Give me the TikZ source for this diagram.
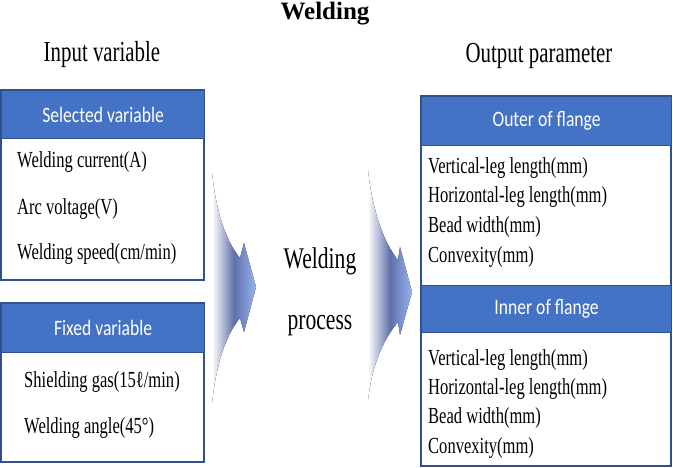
\documentclass[tikz,border=0pt]{standalone}
\usepackage{fontspec}
\setmainfont{Liberation Serif}
\newfontfamily\narrowserif[FakeStretch=0.72]{Liberation Serif}
\newfontfamily\headfont[FakeStretch=0.8]{Carlito}
\usetikzlibrary{positioning}
\definecolor{headblue}{RGB}{68,114,196}
\definecolor{frameblue}{RGB}{47,82,143}
\definecolor{arrowmid}{RGB}{95,112,170}
\definecolor{arrowtip}{RGB}{150,180,240}
\tikzstyle{frame}=[draw=frameblue,line width=1.2pt]
\tikzstyle{header}=[draw=frameblue,fill=headblue,text=white,line width=1.2pt,anchor=north west,inner sep=0pt,font=\headfont\fontsize{22}{26}\selectfont]
\tikzstyle{item}=[anchor=base west,inner sep=0pt,font=\narrowserif\fontsize{23}{28}\selectfont]
\tikzstyle{caption}=[anchor=base,inner sep=0pt,font=\narrowserif\fontsize{29}{34}\selectfont]
\tikzstyle{bigarrow}=[left color=white,right color=arrowtip,middle color=arrowmid,draw=none]

\begin{document}
\begin{tikzpicture}[x=1pt,y=-1pt]
    \useasboundingbox (0,0) rectangle (673,468);

    % titles
    \node[anchor=base,inner sep=0pt,font=\bfseries\fontsize{25}{30}\selectfont] (title) at (325,20) {Welding};
    \node[caption] (input) at (102,62) {Input variable};
    \node[caption] (output) at (539,63) {Output parameter};

    % input boxes
    \draw[frame] (1,90) rectangle (204,280);
    \node[header,minimum width=203pt,minimum height=48pt] (selected) at (1,90) {Selected variable};
    \draw[frame] (1,303) rectangle (204,462);
    \node[header,minimum width=203pt,minimum height=49pt] (fixed) at (1,303) {Fixed variable};

    \foreach \pos/\name/\txt in {{(17,168)/current/{Welding current(A)}}, {(17,215)/voltage/{Arc voltage(V)}},
        {(17,260)/speed/{Welding speed(cm/min)}}, {(24,387)/gas/{Shielding gas(15ℓ/min)}}, {(24,433)/angle/{Welding angle(45°)}}}
        \node[item] (\name) at \pos {\txt};

    % output box
    \draw[frame] (421,96) rectangle (671,466);
    \node[header,minimum width=250pt,minimum height=49pt] (outer) at (421,96) {Outer of flange};
    \node[header,minimum width=250pt,minimum height=47pt] (inner) at (421,285) {Inner of flange};

    \foreach \y/\name in {174/o, 365/i}
    {
        \node[item] (\name vert) at (428,\y) {Vertical-leg length(mm)};
        \node[item,below=29pt of \name vert.base west,anchor=base west] (\name hori) {Horizontal-leg length(mm)};
        \node[item,below=29.5pt of \name hori.base west,anchor=base west] (\name bead) {Bead width(mm)};
        \node[item,below=29.5pt of \name bead.base west,anchor=base west] (\name conv) {Convexity(mm)};
    }

    % curved arrows
    \fill[bigarrow] (212,173) .. controls (216,210) and (225,240) .. (240,258) -- (244,243) -- (256,287)
        -- (244,332) -- (240,318) .. controls (225,336) and (216,366) .. (212,403) -- cycle;
    \fill[bigarrow] (368,170) .. controls (372,208) and (383,242) .. (398,260) -- (400,247) -- (412,292)
        -- (400,335) -- (398,322) .. controls (383,340) and (372,365) .. (368,400) -- cycle;

    \node[caption,font=\narrowserif\fontsize{30}{34}\selectfont] (weld) at (320,269) {Welding};
    \node[caption,font=\narrowserif\fontsize{30}{34}\selectfont] (process) at (320,330) {process};
\end{tikzpicture}
\end{document}
